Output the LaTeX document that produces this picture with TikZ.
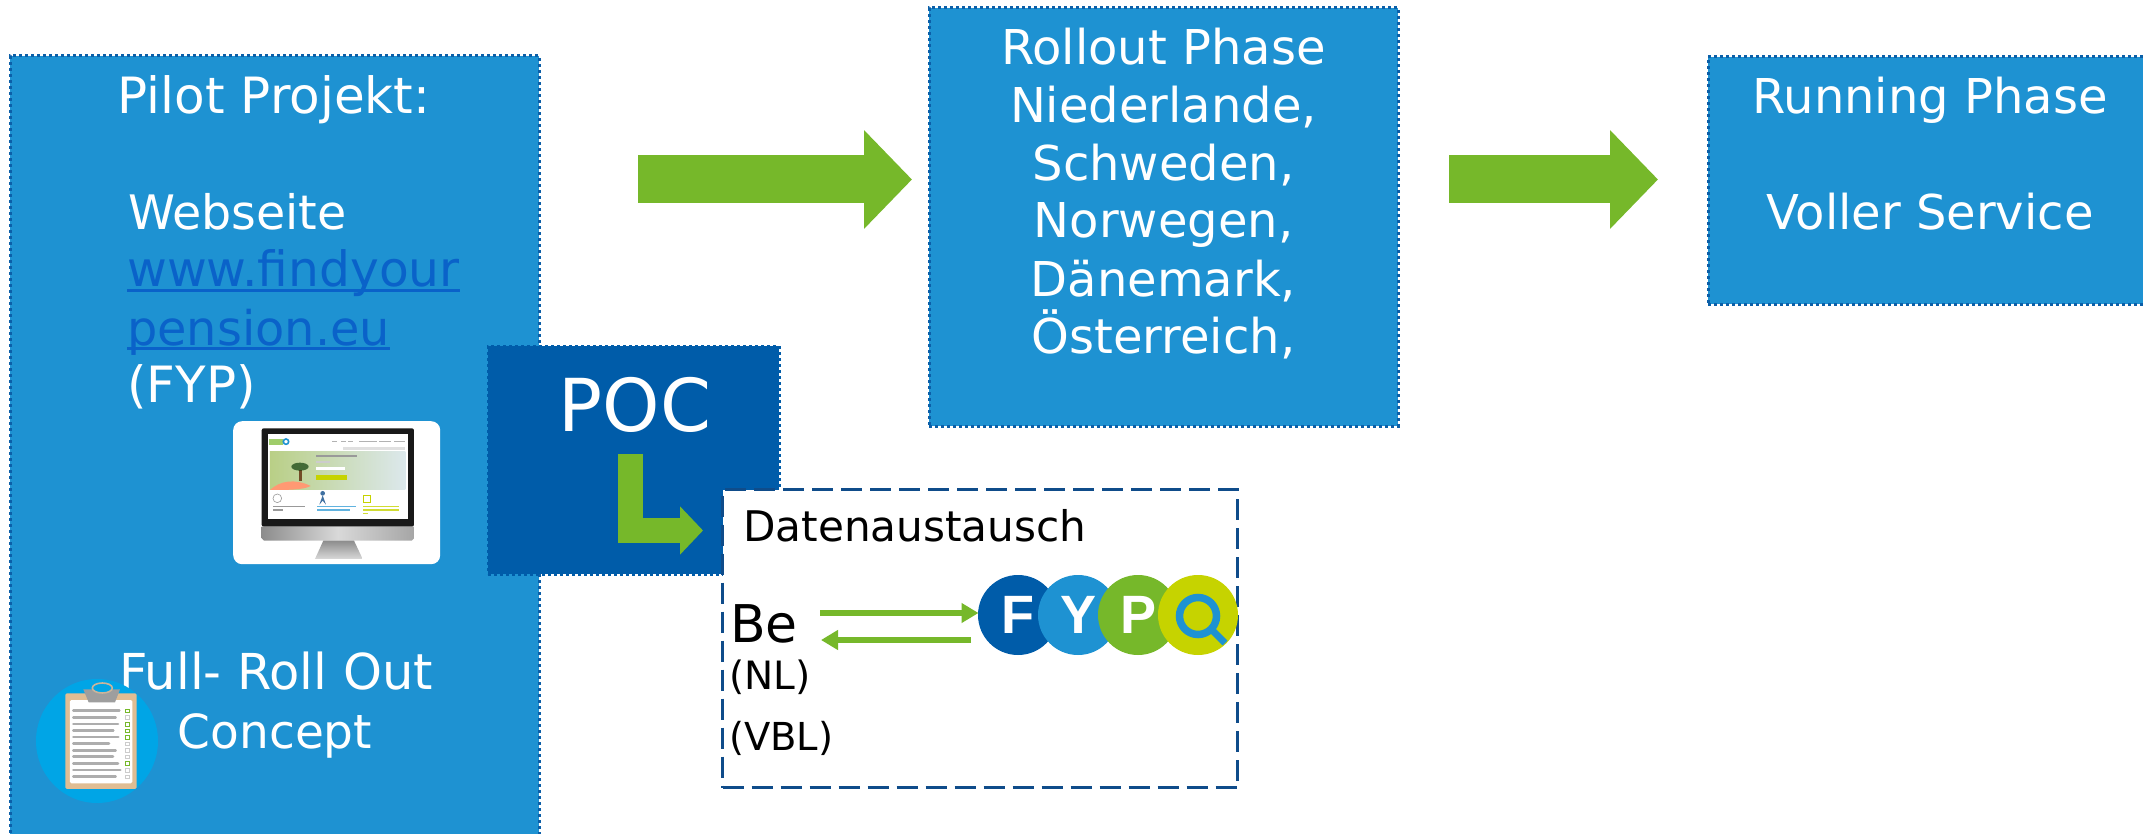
\documentclass[tikz,border=0pt]{standalone}
\usepackage{fontspec}
\setmainfont{DejaVu Sans}
\newfontfamily\logofont{Liberation Sans}
\usetikzlibrary{arrows.meta,calc,shapes.geometric}
\definecolor{cBlue}{HTML}{1E92D2}
\definecolor{cDark}{HTML}{005CA9}
\definecolor{cEdge}{HTML}{0B5FA8}
\definecolor{cGreen}{HTML}{76B82A}
\definecolor{cLime}{HTML}{C6D300}
\definecolor{cLink}{HTML}{0A62C9}
\definecolor{cDash}{HTML}{0F4C8A}
\definecolor{cSky}{HTML}{00A5E6}
\definecolor{cBoard}{HTML}{E0BD93}
\definecolor{cGray}{HTML}{A8A8A8}
\definecolor{cHeroL}{HTML}{B9CF86}
\definecolor{cHeroR}{HTML}{DCE8EC}
\newcommand{\ulk}[1]{\setbox0\hbox{#1}\rlap{\rule[-5pt]{\wd0}{2.6pt}}\box0}
\newcommand{\fsz}[1]{\fontsize{#1pt}{58pt}\selectfont}
\tikzset{
  phasebox/.style={draw=cEdge,fill=cBlue,line width=3pt,dash pattern=on 3pt off 3pt,anchor=north west,inner sep=0pt,outer sep=0pt},
  pocbox/.style={draw=cDark,fill=cDark,line width=3pt,dash pattern=on 3pt off 3pt,anchor=north west,inner sep=0pt,outer sep=0pt},
  databox/.style={draw=cDash,fill=white,line width=2.6pt,dash pattern=on 21pt off 8pt,anchor=north west,inner sep=0pt,outer sep=0pt},
  wtext/.style={text=white,inner sep=0pt,anchor=base,font=\fsz{48}},
  wleft/.style={text=white,inner sep=0pt,anchor=base west,font=\fsz{48}},
  btext/.style={text=black,inner sep=0pt,anchor=base west},
  bigarrow/.style={draw=cGreen,line width=48pt,-{Triangle[length=48pt,width=96pt]}},
  bentarrow/.style={draw=cGreen,line width=25pt,miter limit=10,-{Triangle[length=23pt,width=47pt]}},
  thinarrow/.style={draw=cGreen,line width=6pt,-{Triangle[length=17pt,width=19pt]}},
  fyp/.style={circle,minimum size=80pt,inner sep=0pt,outer sep=0pt,text=white,font=\logofont\fontsize{54pt}{54pt}\selectfont\bfseries},
}
\begin{document}
\begin{tikzpicture}[x=1pt,y=-1pt]
\useasboundingbox (0,0) rectangle (2143,834);
% boxes
\node[phasebox,minimum width=529pt,minimum height=790pt] (pilot) at (10,56) {};
\node[phasebox,minimum width=469pt,minimum height=418pt] (rollout) at (929,8) {};
\node[phasebox,minimum width=445pt,minimum height=247pt] (running) at (1708,57) {};
\node[pocbox,minimum width=291pt,minimum height=228pt] (poc) at (488,346) {};
% pilot text
\node[wtext,font=\fsz{50}] (t1) at (274,114) {Pilot Projekt:};
\node[wleft,font=\fsz{47.5}] (t2) at (128,230) {Webseite};
\node[wleft,text=cLink,font=\fsz{48.7}] (t3) at (127,287) {\ulk{www.findyour}};
\node[wleft,text=cLink,font=\fsz{47.8}] (t4) at (127,345) {\ulk{pension.eu}};
\node[wleft,font=\fsz{50}] (t5) at (127,402) {(FYP)};
% monitor card
\node[fill=white,rounded corners=9pt,minimum width=207pt,minimum height=143pt,anchor=north west,inner sep=0pt] (card) at (233,421) {};
\begin{scope}[shift={(220,410)},x=0.3333pt,y=-0.3333pt]
  \fill[black!90,rounded corners=2pt] (125,55) rectangle (582,350);
  \fill[white] (145,72) rectangle (563,328);
  \shade[left color=black!45,right color=black!35,middle color=black!15] (125,350) -- (582,350) -- (582,385) -- (575,392) -- (132,392) -- (125,385) -- cycle;
  \shade[top color=black!45,bottom color=black!15] (310,392) -- (402,392) -- (428,447) -- (285,447) -- cycle;
  \shade[left color=cHeroL,right color=cHeroR] (150,125) rectangle (556,240);
  \fill[orange!55!red!55!white] (150,240) .. controls (180,212) and (225,205) .. (272,228) .. controls (250,240) and (200,240) .. (150,240) -- cycle;
  \fill[brown!60!black] (237,180) rectangle (245,212);
  \fill[green!20!black,opacity=.65] (240,170) ellipse (26 and 12);
  \fill[black!40] (288,134) rectangle (412,142);
  \fill[black!20] (288,152) rectangle (330,158);
  \fill[white] (288,170) rectangle (375,180);
  \fill[cLime] (288,196) rectangle (380,210);
  \fill[cGreen!70] (148,88) rectangle (190,104);
  \draw[cBlue,line width=1.6pt] (198,95) circle (8);
  \foreach \a/\b in {335/352,362/378,385/398,418/470,478/512,522/556}{\fill[black!30] (\a,93) rectangle (\b,97);}
  \fill[black!12] (370,112) rectangle (556,120);
  \draw[black!40,line width=.6pt] (172,265) circle (13);
  \fill[cDash!80] (308,250) circle (7);
  \fill[cDash!80] (298,284) -- (308,256) -- (318,284) -- (308,272) -- cycle;
  \draw[cLime,line width=1pt] (432,256) rectangle (452,278);
  \fill[black!40] (160,287) rectangle (256,291);
  \fill[black!40] (160,298) rectangle (188,302);
  \fill[cBlue!70] (292,287) rectangle (408,291);
  \fill[cBlue!70] (292,298) rectangle (390,302);
  \fill[cLime!80] (428,287) rectangle (536,291);
  \fill[cLime!80] (428,298) rectangle (536,302);
  \fill[cLime!80] (428,309) rectangle (444,313);
\end{scope}
% full roll out
\node[wtext,font=\fsz{49.5}] (t6) at (276,689) {Full- Roll Out};
\node[wtext,font=\fsz{47}] (t7) at (275,748) {Concept};
\node[fill=cSky,ellipse,minimum width=122pt,minimum height=124pt,inner sep=0pt] (clip) at (97,741) {};
\begin{scope}[shift={(20,670)},x=0.3333pt,y=-0.3333pt]
  \fill[cBoard,rounded corners=1.5pt] (136,70) rectangle (350,357);
  \fill[white,rounded corners=1.5pt] (150,90) rectangle (337,340);
  \fill[black!38] (190,58) -- (300,58) -- (285,97) -- (206,97) -- cycle;
  \draw[cBoard!60!cGray,line width=1.6pt,fill=cSky] (247,54) ellipse (30 and 15);
  \foreach \yy/\xx in {122/298,142/287,162/294,182/280,201/295,221/267,241/287,260/279,280/294,300/301,320/287}{
    \draw[black!32,line width=2.6pt,line cap=round] (160,\yy) -- (\xx,\yy);}
  \foreach \yy/\cc in {122/cGreen,142/black!20,162/cGreen,182/cGreen,201/cGreen,221/black!20,241/black!20,260/black!20,280/cGreen,300/black!20,320/black!20}{
    \draw[\cc,line width=.8pt] (316,\yy-5) rectangle (328,\yy+6);}
\end{scope}
% POC
\node[text=white,inner sep=0pt,anchor=base,font=\fontsize{73pt}{73pt}\selectfont] (poctext) at (635,431) {POC};
\coordinate (l1) at (630.5,454);
\coordinate (l2) at (703,530.5);
\draw[bentarrow] (l1) |- (l2);
% data box
\node[databox,minimum width=515pt,minimum height=298pt] (data) at (722.5,489.5) {};
\node[btext,font=\fontsize{42.2pt}{44pt}\selectfont] (dt) at (743,541) {Datenaustausch};
\node[btext,font=\fontsize{52pt}{52pt}\selectfont] (be) at (730,642) {Be};
\node[btext,font=\fontsize{39pt}{39pt}\selectfont] (nl) at (729,689) {(NL)};
\node[btext,font=\fontsize{38.5pt}{39pt}\selectfont] (vbl) at (729,750) {(VBL)};
% FYP logo
\node[fyp,fill=cDark] (fF) at (1018,615) {F};
\node[fyp,fill=cBlue] (fY) at (1078,615) {Y};
\node[fyp,fill=cGreen] (fP) at (1138,615) {P};
\node[fyp,fill=cLime] (fQ) at (1198,615) {};
\draw[cBlue,line width=7.5pt] (fQ.center) ++(0,1) circle (18.5);
\coordinate (qa) at (1212,630);
\coordinate (qb) at (1225,643);
\draw[cBlue,line width=7pt] (qa) -- (qb);
% small arrows
\coordinate (rs) at (820,613);
\coordinate (re) at (978.5,613);
\coordinate (ls) at (971,640);
\coordinate (le) at (821,640);
\draw[thinarrow] (rs) -- (re);
\draw[thinarrow] (ls) -- (le);
% rollout / running text
\node[wtext] (t8) at (1163.5,65) {Rollout Phase};
\node[wtext] (t9) at (1163.5,123) {Niederlande,};
\node[wtext] (t10) at (1163.5,181) {Schweden,};
\node[wtext] (t11) at (1163.5,238) {Norwegen,};
\node[wtext] (t12) at (1163.5,296) {Dänemark,};
\node[wtext] (t13) at (1163.5,353) {Österreich,};
\node[wtext] (t14) at (1930,114) {Running Phase};
\node[wtext] (t15) at (1930,230) {Voller Service};
% big arrows
\coordinate (a1) at (638,179.5);
\coordinate (a2) at (912,179.5);
\coordinate (b1) at (1449,179.5);
\coordinate (b2) at (1658,179.5);
\draw[bigarrow] (a1) -- (a2);
\draw[bigarrow] (b1) -- (b2);
\end{tikzpicture}
\end{document}
